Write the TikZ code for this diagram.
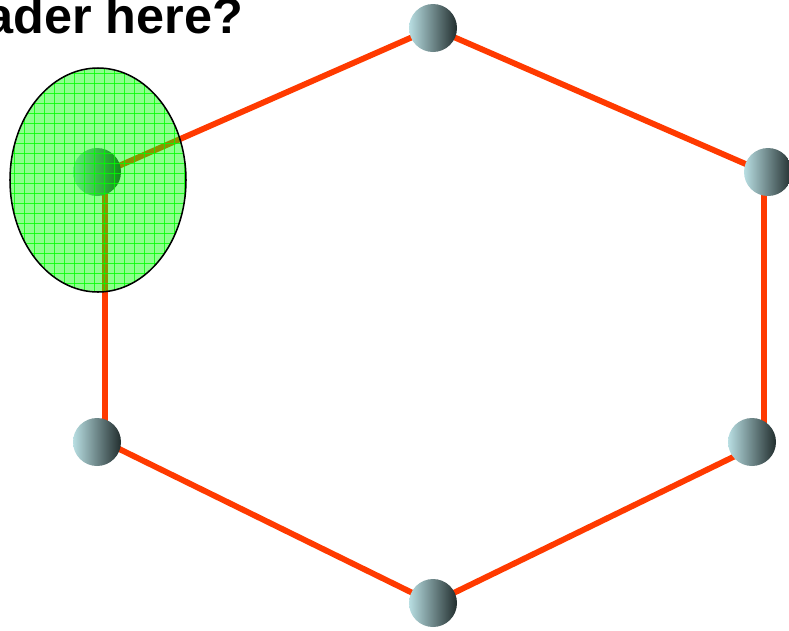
\documentclass[tikz,border=0pt]{standalone}
\usepackage{fontspec}
\setmainfont{Liberation Sans}
\usetikzlibrary{backgrounds}

\definecolor{ringRed}{RGB}{255,58,0}
\definecolor{ballLight}{RGB}{184,222,226}
\definecolor{ballMid}{RGB}{128,162,166}
\definecolor{ballDark}{RGB}{34,46,46}
\definecolor{hiGreen}{RGB}{0,255,0}

\begin{document}
\begin{tikzpicture}[
    x=0.03cm, y=-0.03cm,
    proc/.style={circle, draw=none, minimum size=1.44cm, inner sep=0pt,
                 left color=ballLight, middle color=ballMid, right color=ballDark},
    link/.style={ringRed, line width=5pt},
    gridline/.style={hiGreen, line width=0.6pt, opacity=0.8}
]
    \useasboundingbox (0,0) rectangle (789,630);

    % question
    \node[anchor=base east, font=\bfseries\fontsize{43}{46}\selectfont] (title) at (247,33) {ader here?};

    % processes on the ring
    \node[proc] (P1) at (433,28) {};
    \node[proc] (P2) at (768,172) {};
    \node[proc] (P3) at (752,442) {};
    \node[proc] (P4) at (433,603) {};
    \node[proc] (P5) at (97,442) {};
    \node[proc] (P6) at (97,172) {};

    \begin{pgfonlayer}{background}
        \draw[link] (P1.center) -- ([xshift=-0.12cm]P2.center);
        \draw[link] ([xshift=-0.12cm]P2.center) -- ([xshift=0.36cm]P3.center);
        \draw[link] ([xshift=0.36cm]P3.center) -- (P4.center);
        \draw[link] (P4.center) -- ([xshift=0.24cm]P5.center);
        \draw[link] ([xshift=0.24cm]P5.center) -- ([xshift=0.24cm]P6.center);
        \draw[link] ([xshift=0.24cm]P6.center) -- (P1.center);
    \end{pgfonlayer}

    % highlighted process
    \fill[hiGreen, fill opacity=0.45] (98,180) ellipse [x radius=88, y radius=112];
    \begin{scope}
        \clip (98,180) ellipse [x radius=88, y radius=112];
        \foreach \x in {14,24,...,184}
            \draw[gridline] (\x,60) -- (\x,300);
        \foreach \y in {73,83,...,293}
            \draw[gridline] (0,\y) -- (200,\y);
    \end{scope}
    \draw[black, line width=1.3pt] (98,180) ellipse [x radius=88, y radius=112];

\end{tikzpicture}
\end{document}
